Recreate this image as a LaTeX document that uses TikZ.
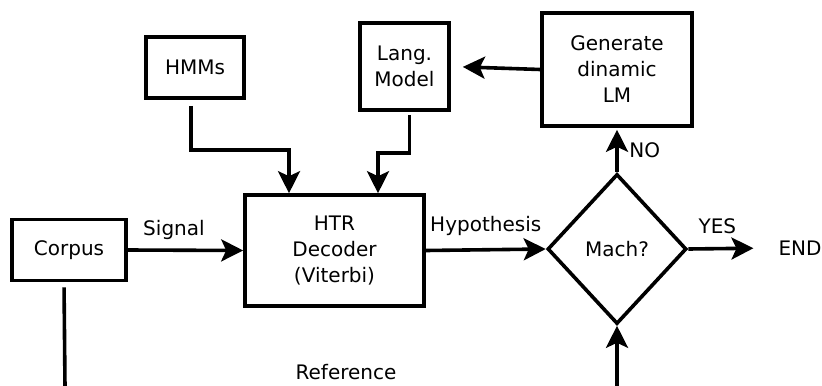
\documentclass[tikz,border=0pt]{standalone}
\usepackage{fontspec}
\setmainfont{DejaVu Sans}
\usetikzlibrary{arrows.meta,shapes.geometric}
\tikzset{
	blockbox/.style={draw, line width=1.8pt, inner sep=0pt, align=center},
	flow/.style={line width=1.8pt, -{Stealth[length=11pt,width=11pt,inset=2.5pt]}},
	plainflow/.style={line width=1.8pt},
}
\begin{document}
\begin{tikzpicture}[x=0.5pt,y=-0.5pt]
		\fontsize{10}{13}\selectfont
		\useasboundingbox (0,0) rectangle (822,385);
		%The blocks
		\node [blockbox, minimum width=57pt, minimum height=30.5pt] (corpus) at (69,250) {Corpus};
		\node [blockbox, minimum width=89.5pt, minimum height=55.5pt] (htr) at (334.5,250.5) {HTR\\Decoder\\(Viterbi)};
		\node [blockbox, minimum width=49pt, minimum height=30.5pt] (hmm) at (195,67.5) {HMMs};
		\node [blockbox, minimum width=44.5pt, minimum height=43.5pt] (lang) at (404.5,66.5) {Lang.\\Model};
		\node [blockbox, minimum width=75pt, minimum height=56.5pt] (gen) at (617,69.5) {Generate\\dinamic\\LM};
		%The decision
		\node [blockbox, diamond, minimum width=69.5pt, minimum height=75pt] (mach) at (617,249) {Mach?};
		\node [] (fin) at (800,248) {END};
		\node [] (ref) at (346,372) {Reference};
		%Free ends at the bottom
		\coordinate (corpusout) at (65,387);
		\coordinate (refin) at (617,387);
		%Bends
		\coordinate (hmmbend) at (289,150);
		\coordinate (langbend) at (378,153);
		%Connectors
		\draw [flow] (corpus.east) -- (htr.west) node [pos=0.4, above=1pt] {Signal};
		\draw [flow] ([xshift=-2pt]hmm.south) ++(0,6) |- (hmmbend) -- (hmmbend |- htr.north);
		\draw [flow] ([xshift=2.5pt]lang.south) ++(0,3) |- (langbend) -- (langbend |- htr.north);
		\draw [flow, shorten >=6pt] (gen.west) -- (lang.east);
		\draw [flow] (htr.east) -- (mach.west) node [midway, above=3pt] {Hypothesis};
		\draw [flow, shorten >=1pt] (mach.north) -- (gen.south) node [midway, right=2pt] {NO};
		\draw [flow, shorten >=9pt] (mach.east) -- (fin.west) node [pos=0.35, above=3pt] {YES};
		\draw [plainflow, shorten <=2.5pt] ([xshift=-2.5pt]corpus.south) -- (corpusout);
		\draw [flow] (refin) -- (mach.south);
\end{tikzpicture}
\end{document}
